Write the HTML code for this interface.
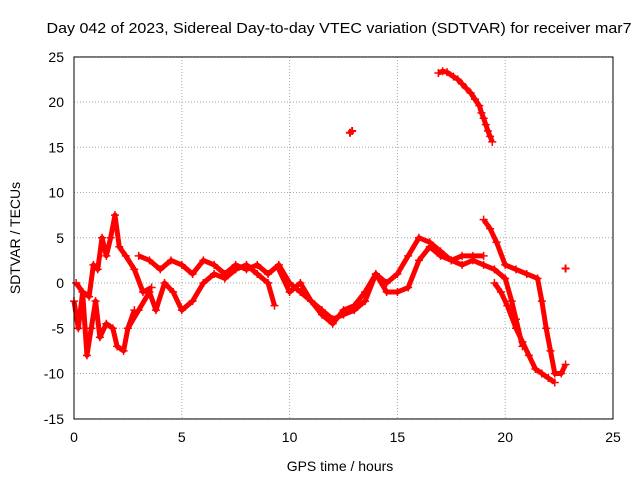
<!DOCTYPE html>
<html><head><meta charset="utf-8"><style>
body{margin:0;background:#fff}
svg{display:block;font-family:"Liberation Sans",sans-serif}
</style></head><body>
<svg id="chart" width="640" height="480" viewBox="0 0 640 480">
<text x="339" y="33" font-size="15" text-anchor="middle" textLength="585" lengthAdjust="spacingAndGlyphs">Day 042 of 2023, Sidereal Day-to-day VTEC variation (SDTVAR) for receiver mar7</text>
<text x="340" y="471" font-size="14" text-anchor="middle">GPS time / hours</text>
<text transform="translate(20,238) rotate(-90)" font-size="14" text-anchor="middle">SDTVAR / TECUs</text>
<g id="grid"></g><g id="ticks"></g><g id="marks"></g>
<rect x="74" y="57" width="539" height="362" fill="none" stroke="#000"/>
</svg>
<script>
const xTicks=[0,5,10,15,20,25];
const yTicks=[-15,-10,-5,0,5,10,15,20,25];
const arcT=[16.9,17.1,17.3,17.6,17.8,18.0,18.2,18.4,18.6,18.8,18.9,19.0,19.1,19.2,19.3,19.4];
const arcV=[23.2,23.4,23.3,22.8,22.5,22.0,21.5,21.0,20.3,19.6,18.8,18.2,17.5,16.8,16.2,15.6];
const mainT=[3.0,3.5,4.0,4.5,5.0,5.5,6.0,6.5,7.0,7.5,8.0,8.5,9.0,9.5,10.0,10.5,11.0,11.5,12.0,12.5,13.0,13.5,14.0,14.5,15.0,15.5,16.0,16.5,17.0,17.5,18.0,18.5,19.0,19.5,20.0,20.3,20.5,20.8];
const mainV=[3,2.5,1.5,2.5,2,1,2.5,2,1,2,1.5,2,1,2,0,-1,-2,-3.5,-4.5,-3,-2.5,-1,1,0,1,3,5,4.5,3.5,2.5,2,2.5,2,1.5,0.5,-2,-4,-7];
const lowT=[2.5,3.0,3.5,3.8,4.2,4.6,5.0,5.5,6.0,6.5,7.0,7.5,8.0,8.5,9.0,9.3];
const lowV=[-5,-3,-1,-3,0,-1,-3,-2,0,1,0.5,1.5,2,1,0,-2.5];
const midT=[9.5,10,10.5,11,11.5,12,12.5,13,13.5,14,14.5,15,15.5,16,16.5,17,17.5,18,18.5,19];
const midV=[1.5,-1,0,-2,-3,-4,-3.5,-3,-2,1,-1,-1,-0.5,2.5,4,3,2.5,3,3,3];
const rt1T=[19.0,19.3,19.6,20.0,20.5,21.0,21.5,21.7,21.9,22.1,22.3,22.6,22.8];
const rt1V=[7,6,4.5,2,1.5,1,0.5,-2,-5,-7.5,-10,-10,-9];
const rt2T=[19.5,19.8,20.1,20.5,20.8,21.1,21.4,21.7,22.0,22.3];
const rt2V=[0,-1,-2.5,-5,-6.5,-8,-9.5,-10,-10.5,-11];
const leftT=[0.0,0.2,0.4,0.6,0.8,1.0,1.2,1.5,1.8,2.0,2.3,2.5,2.8];
const leftV=[-2,-5,-1,-8,-5,-2,-6,-4.5,-5,-7,-7.5,-5,-3];
const spikeT=[0.1,0.4,0.7,0.9,1.1,1.3,1.5,1.7,1.9,2.1,2.4,2.8,3.2,3.6];
const spikeV=[0,-1,-1.5,2,1.5,5,3,5,7.5,4,3,1.5,-1,-0.5];
const isoT=[12.8,12.9,22.8];
const isoV=[16.6,16.8,1.6];
const X=t=>74+t*539/25, Y=v=>283-v*362/40;
const NS="http://www.w3.org/2000/svg";
const g=document.getElementById('grid'),tk=document.getElementById('ticks'),m=document.getElementById('marks');
function el(n,a,p){const e=document.createElementNS(NS,n);for(const k in a)e.setAttribute(k,a[k]);p.appendChild(e);return e;}
xTicks.forEach(t=>{
 const l=el('line',{x1:X(t),x2:X(t),y1:57,y2:419,stroke:'#aaa','stroke-dasharray':'1,2'},g);
 
 
 const s=el('text',{x:X(t),y:442,'font-size':14,'text-anchor':'middle'},tk);s.textContent=t;
 
 
});
yTicks.forEach(v=>{
 const l=el('line',{x1:74,x2:613,y1:Y(v),y2:Y(v),stroke:'#aaa','stroke-dasharray':'1,2'},g);
 
 
 const s=el('text',{x:64,y:Y(v)+5,'font-size':14,'text-anchor':'end'},tk);s.textContent=v;
 
 
});
const series=[[arcT,arcV],[mainT,mainV],[lowT,lowV],[midT,midV],[rt1T,rt1V],[rt2T,rt2V],[leftT,leftV],[spikeT,spikeV]];
series.forEach(([T,V])=>{
 const p=el('polyline',{points:T.map((t,i)=>X(t)+','+Y(V[i])).join(' '),fill:'none',stroke:'#f00','stroke-width':5,'stroke-linejoin':'round'},m);
 
 
 T.forEach((t,i)=>{
  const q=el('path',{d:`M${X(t)-4},${Y(V[i])}h8M${X(t)},${Y(V[i])-4}v8`,stroke:'#f00','stroke-width':1.5},m);
  
  
 });
});
isoT.forEach((t,i)=>{
 const q=el('path',{d:`M${X(t)-4},${Y(isoV[i])}h8M${X(t)},${Y(isoV[i])-4}v8`,stroke:'#f00','stroke-width':2},m);
 
 
});
</script>
</body></html>
